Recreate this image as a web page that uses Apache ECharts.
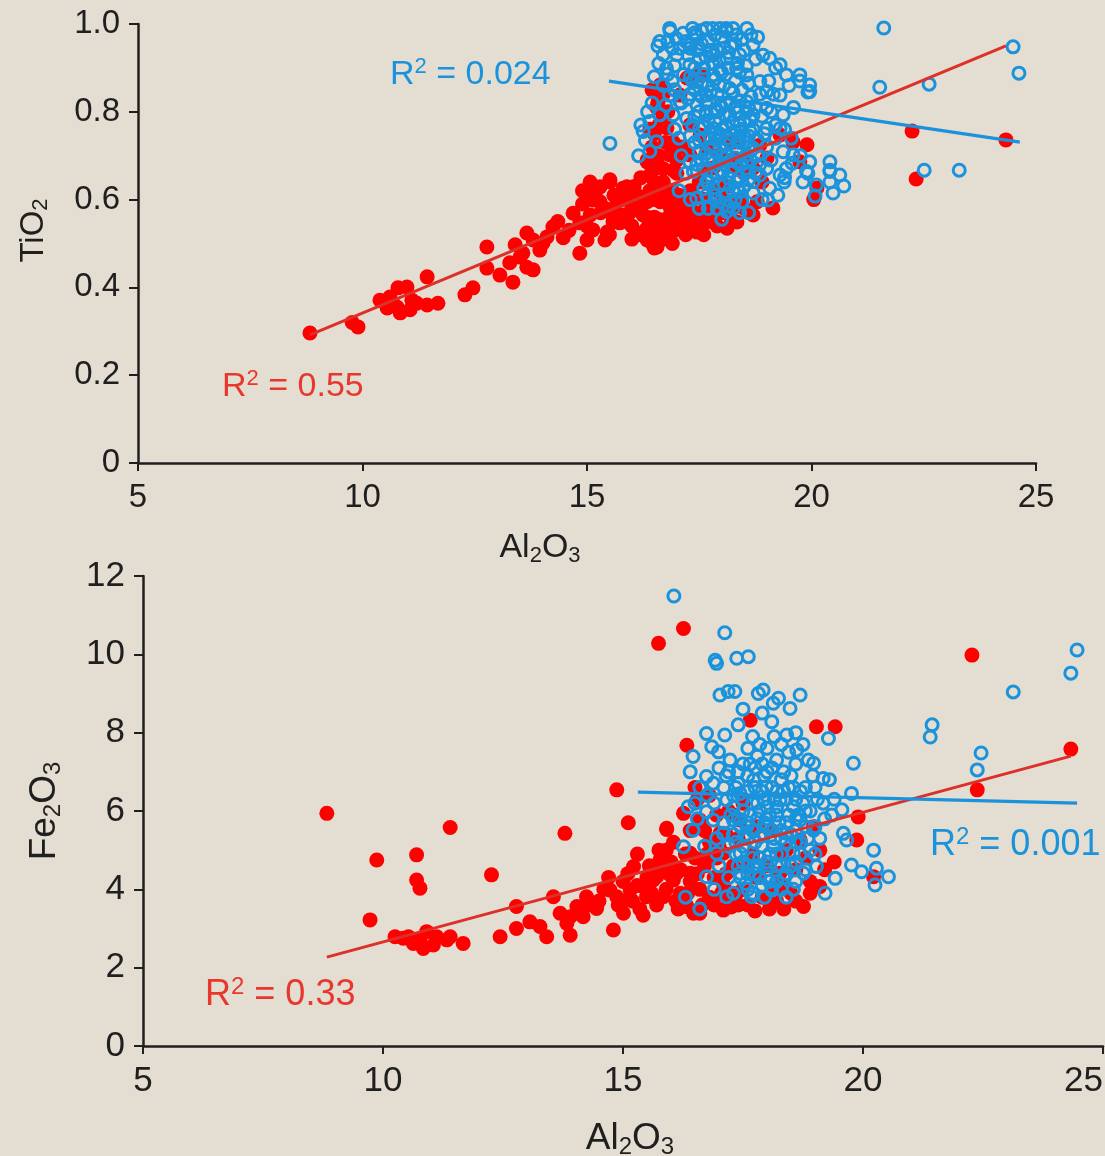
<!DOCTYPE html>
<html>
<head>
<meta charset="utf-8">
<title>TiO2 and Fe2O3 vs Al2O3</title>
<style>
  html, body { margin: 0; padding: 0; background: #e3ddd2; }
  #chart { width: 1105px; height: 1156px; }
</style>
<script src="https://cdn.jsdelivr.net/npm/echarts@6/dist/echarts.min.js"></script>
</head>
<body>
<div id="chart"></div>
<script>
// ---- axis ticks ----
const al2o3Ticks = [5, 10, 15, 20, 25];
const tio2Ticks = [0, 0.2, 0.4, 0.6, 0.8, 1.0];
const fe2o3Ticks = [0, 2, 4, 6, 8, 10, 12];

// ---- TiO2 vs Al2O3: group A (filled red) ----
const tio2Red = [
  [8.83,0.296],[9.77,0.32],[9.9,0.31],
  [10.39,0.371],[10.61,0.378],[10.79,0.399],[10.99,0.401],[10.55,0.353],[10.77,0.355],[10.84,0.342],[11.06,0.349],
  [11.21,0.364],[11.44,0.36],[11.68,0.364],[11.44,0.424],[10.68,0.364],[11.1,0.371],
  [12.28,0.383],[12.46,0.399],[12.77,0.492],[12.77,0.444],
  [13.06,0.428],[13.35,0.412],[13.28,0.456],[13.51,0.469],[13.66,0.524],[13.8,0.508],[13.95,0.485],[14.11,0.515],
  [14.24,0.538],[13.8,0.44],[13.66,0.446],[13.4,0.497],[13.57,0.478],[14.02,0.501],[14.47,0.513],
  [14.69,0.569],[14.84,0.547],[15.0,0.508],[14.84,0.478],[15.13,0.599],[15.29,0.629],[15.51,0.645],[15.13,0.531],
  [15.4,0.508],[15.58,0.56],[15.73,0.547],[15.89,0.629],[16.18,0.606],[16.34,0.69],[16.56,0.686],[16.34,0.56],
  [16.47,0.524],[16.34,0.508],[16.56,0.492],[16.69,0.622],[16.92,0.667],[17.07,0.547],[17.29,0.583],[16.85,0.583],[16.63,0.554],
  [16.63,0.861],[16.58,0.822],[16.69,0.793],[16.78,0.763],[16.92,0.731],[16.85,0.702],[16.34,0.686],[16.56,0.672],
  [16.4,0.656],[15.07,0.64],[15.51,0.64],[15.8,0.626],[16.11,0.61],[15.29,0.595],[15.67,0.595],
  [16.34,0.595],[16.63,0.595],[16.92,0.61],[17.07,0.595],[16.25,0.565],[16.56,0.549],[16.85,0.565],[17.14,0.565],
  [17.45,0.549],[16.34,0.535],[16.69,0.526],[17.07,0.535],[17.45,0.526],[17.81,0.549],[18.12,0.535],[18.34,0.549],
  [18.79,0.595],[18.7,0.565],[19.14,0.581],[15.58,0.549],[15.45,0.526],[15.8,0.565],[15.07,0.565],
  [17.23,0.877],[17.52,0.884],[17.07,0.838],[17.29,0.77],[17.52,0.747],[17.67,0.718],[17.96,0.702],[18.25,0.731],
  [18.56,0.702],[18.85,0.724],[19.01,0.695],[19.3,0.747],[18.7,0.672],[18.34,0.672],[17.81,0.672],[17.29,0.702],
  [16.5,0.75],[16.6,0.70],[16.7,0.64],[16.9,0.62],[17.0,0.57],[17.2,0.55],[17.4,0.57],[17.6,0.60],[17.8,0.58],
  [18.0,0.57],[18.2,0.56],[17.6,0.52],[17.2,0.52],[16.9,0.50],[16.5,0.56],[16.1,0.58],[15.9,0.60],[15.6,0.61],
  [16.0,0.54],[17.9,0.62],[18.4,0.60],[18.1,0.63],[17.5,0.64],[17.3,0.62],[16.8,0.54],[16.4,0.62],[15.3,0.57],
  [14.9,0.59],[17.0,0.66],[17.7,0.67],[18.5,0.66],[18.9,0.64],[18.3,0.69],[17.1,0.72],[16.8,0.80],[16.7,0.84],
  [15.2,0.62],[15.4,0.58],[15.6,0.58],[15.75,0.6],[15.95,0.57],[16.05,0.63],[16.2,0.65],[16.3,0.53],[16.45,0.6],
  [16.6,0.63],[16.75,0.6],[16.9,0.58],[17.05,0.61],[17.2,0.58],[17.35,0.6],[17.55,0.57],[17.7,0.55],[17.9,0.54],
  [18.05,0.6],[18.25,0.58],[18.5,0.58],[16.2,0.52],[16.45,0.5],[16.7,0.51],[16.95,0.53],[17.3,0.54],[17.6,0.55],
  [16.5,0.64],[16.7,0.67],[16.45,0.72],[16.6,0.77],[16.55,0.81],[16.75,0.73],[17.0,0.69],[16.4,0.76],[16.45,0.85],
  [15.0,0.54],[14.6,0.53],[14.35,0.55],[14.9,0.62],[15.5,0.52],[16.0,0.51],[16.5,0.49],
  [19.59,0.731],[19.9,0.725],[19.74,0.686],[20.12,0.626],[20.05,0.60],
  [22.24,0.756],[22.33,0.647],[24.33,0.736]
];

// ---- TiO2 vs Al2O3: group B (open blue) ----
const tio2Blue = [
  [16.84,0.99],[17.14,0.979],[16.62,0.96],[16.99,0.967],[17.44,0.975],[17.66,0.99],[17.96,0.99],[18.11,0.983],
  [18.33,0.975],[18.56,0.99],[18.7,0.952],[18.92,0.929],[19.07,0.922],[19.3,0.907],[19.44,0.884],[19.74,0.884],
  [19.96,0.861],[19.96,0.846],[16.77,0.899],[17.07,0.945],[17.29,0.907],[16.84,0.838],[17.07,0.823],[16.62,0.793],
  [16.4,0.778],[16.25,0.755],[16.55,0.732],[15.51,0.728],[16.92,0.793],[17.22,0.785],[17.29,0.686],[17.37,0.664],
  [17.59,0.671],[17.66,0.641],[17.44,0.603],[17.66,0.61],[17.81,0.626],[17.96,0.595],[18.11,0.573],[18.26,0.58],
  [18.4,0.618],[18.7,0.641],[18.85,0.656],[19.0,0.671],[19.07,0.626],[19.3,0.656],[19.44,0.671],[19.59,0.702],
  [19.96,0.686],[19.89,0.664],[20.11,0.633],[20.41,0.686],[20.41,0.664],[20.63,0.656],[19.37,0.709],[19.3,0.762],
  [19.37,0.793],[19.3,0.838],[19.0,0.846],[18.85,0.869],[18.56,0.884],[18.33,0.899],[18.11,0.922],[17.81,0.929],
  [17.51,0.945],[17.29,0.952],[17.44,0.869],[17.66,0.838],[17.96,0.815],[18.18,0.793],[18.4,0.77],[18.63,0.755],
  [18.18,0.732],[17.96,0.717],[17.81,0.762],[17.66,0.793],[17.51,0.762],[17.81,0.884],[18.18,0.853],[18.56,0.823],
  [18.7,0.793],[19.0,0.808],[19.0,0.762],[18.7,0.717],[18.56,0.702],[18.33,0.686],[18.11,0.702],[18.03,0.664],
  [18.33,0.641],[18.56,0.664],
  [17.2,0.96],[17.5,0.92],[17.7,0.96],[17.9,0.94],[18.0,0.97],[18.2,0.95],[18.4,0.93],[17.6,0.90],[17.8,0.91],
  [18.0,0.89],[18.3,0.87],[17.4,0.85],[17.7,0.86],[17.9,0.84],[18.1,0.82],[18.3,0.81],[18.5,0.78],[17.5,0.80],
  [17.7,0.78],[17.9,0.80],[18.0,0.76],[18.2,0.75],[18.4,0.73],[17.6,0.74],[17.8,0.72],[18.0,0.70],[18.2,0.69],
  [17.7,0.69],[17.5,0.71],[18.6,0.72],[18.8,0.70],[19.1,0.69],[18.9,0.79],[19.2,0.74],[17.9,0.66],[18.1,0.61],
  [18.3,0.60],[17.9,0.58],[18.4,0.65],[17.3,0.88],[17.1,0.82],[16.9,0.87],[17.0,0.93],[16.8,0.96],[16.6,0.91],
  [19.1,0.80],[19.4,0.76],[17.4,0.98],[18.8,0.97],[17.8,0.99],[18.1,0.99],
  [17.35,0.99],[17.55,0.985],[17.85,0.975],[18.25,0.99],[18.45,0.965],[18.65,0.975],[17.25,0.93],[17.45,0.94],
  [17.65,0.925],[17.95,0.915],[18.15,0.935],[18.35,0.91],[18.55,0.905],[18.75,0.92],[17.15,0.885],[17.35,0.87],
  [17.55,0.865],[17.85,0.875],[18.05,0.86],[18.25,0.845],[18.45,0.85],[18.65,0.835],[18.85,0.84],[19.05,0.87],
  [17.25,0.83],[17.45,0.815],[17.65,0.82],[17.85,0.805],[18.05,0.795],[18.35,0.8],[18.55,0.8],[18.75,0.81],
  [19.15,0.84],[17.35,0.77],[17.6,0.765],[17.85,0.75],[18.1,0.765],[18.3,0.755],[18.5,0.745],[18.7,0.76],
  [18.95,0.75],[19.2,0.77],[17.4,0.73],[17.65,0.705],[17.9,0.735],[18.1,0.725],[18.35,0.71],[18.55,0.73],
  [18.8,0.735],[19.0,0.72],[17.45,0.68],[17.75,0.655],[17.95,0.685],[18.2,0.665],[18.45,0.68],[18.65,0.69],
  [18.85,0.68],[17.6,0.625],[17.85,0.61],[18.05,0.635],[18.25,0.62],[18.5,0.63],[18.7,0.615],[17.7,0.58],
  [18.0,0.555],[18.2,0.595],[18.45,0.595],[16.95,0.905],[16.7,0.93],[16.9,0.945],[16.5,0.88],[16.7,0.86],
  [16.95,0.85],[16.45,0.82],[16.75,0.815],[16.95,0.76],[16.35,0.80],[17.05,0.74],[16.2,0.77],[16.4,0.71],
  [17.1,0.7],[17.2,0.66],[17.05,0.62],[17.3,0.6],[17.5,0.58],[19.2,0.9],[19.5,0.86],[19.6,0.81],[19.55,0.74],
  [19.75,0.7],[19.4,0.65],[19.25,0.61],[18.9,0.6],[18.6,0.57],[16.3,0.735],[16.15,0.7],
  [17.3,0.945],[17.55,0.955],[17.75,0.94],[18.05,0.945],[18.3,0.955],[18.5,0.94],[17.4,0.9],[17.6,0.885],
  [17.95,0.895],[18.15,0.9],[18.4,0.89],[18.6,0.865],[17.3,0.84],[17.55,0.835],[17.75,0.845],[17.95,0.86],
  [18.2,0.82],[18.4,0.825],[18.6,0.81],[17.4,0.79],[17.65,0.8],[17.85,0.78],[18.0,0.81],[18.25,0.775],
  [18.45,0.76],[18.65,0.78],[17.3,0.745],[17.5,0.735],[17.75,0.74],[17.95,0.75],[18.15,0.74],[18.4,0.745],
  [18.6,0.745],[17.55,0.69],[17.8,0.695],[18.05,0.68],[18.3,0.695],[18.55,0.685],[18.75,0.66],[17.7,0.64],
  [17.95,0.635],[18.15,0.65],[18.35,0.625],[18.6,0.645],[17.85,0.6],[18.15,0.585],[18.4,0.57],
  [20.41,0.667],[19.92,0.66],[20.41,0.64],[20.72,0.631],[20.48,0.615],[19.81,0.64],[20.08,0.608],[19.03,0.599],
  [19.39,0.64],[19.57,0.683],[19.74,0.87],[19.92,0.845],[16.8,0.886],[16.58,0.95],[16.85,0.984],
  [21.61,0.991],[21.52,0.856],[22.62,0.863],[24.49,0.948],[24.62,0.888],[22.51,0.667],[23.29,0.667]
];

// ---- Fe2O3 vs Al2O3: group A (filled red) ----
const fe2o3Red = [
  [8.83,5.94],[9.87,4.75],[10.7,4.88],[10.7,4.24],[10.77,4.03],[9.73,3.22],[11.4,5.58],[12.26,4.37],[13.79,5.43],
  [14.87,6.54],[15.11,5.7],[15.91,5.53],[16.33,7.68],
  [10.42,2.75],[10.63,2.62],[10.84,2.49],[10.91,2.92],[11.12,2.79],[11.33,2.71],[11.67,2.62],[10.77,2.71],
  [11.05,2.58],[10.53,2.79],[11.4,2.79],[10.25,2.79],[12.44,2.79],[12.78,3.56],
  [12.78,3.0],[13.06,3.17],[13.27,3.05],[13.41,2.79],[13.55,3.81],[13.69,3.39],[13.83,3.13],[13.9,2.83],
  [14.04,3.56],[14.17,3.3],[14.24,3.81],[14.45,3.51],[14.73,3.98],[14.8,2.96],[15.01,3.39],[15.22,4.58],
  [15.42,3.34],[15.15,3.98],[15.49,3.81],[15.7,4.32],[16.05,4.24],[16.4,4.41],[16.33,3.56],[16.47,3.39],
  [16.19,3.9],[15.84,3.81],[14.87,3.81],
  [16.26,10.66],[15.74,10.28],[17.65,8.32],[19.03,8.15],[19.42,8.15],[15.91,5.56],[19.9,5.85],[19.87,5.26],
  [19.1,5.0],[19.1,4.07],[18.76,3.56],[17.09,3.47],[16.33,3.56],[16.6,3.39],[16.4,4.92],[16.6,5.77],[16.26,5.94],
  [16.54,6.28],[17.37,3.9],[18.13,3.9],[18.27,4.41],[17.58,4.58],[17.09,4.92],[17.02,5.43],[17.44,5.77],
  [18.34,4.92],[18.69,5.26],[18.97,5.6],[15.42,4.07],[15.77,4.75],[16.12,4.41],[15.63,4.24],[20.22,4.32],
  [15.5,4.3],[15.6,3.9],[15.8,4.6],[15.9,4.0],[16.0,4.7],[16.1,3.7],[16.2,4.5],[16.4,4.2],[16.5,4.8],[16.6,4.0],
  [16.7,4.6],[16.8,3.8],[16.9,4.3],[17.0,5.1],[17.1,4.1],[17.2,3.7],[17.3,4.6],[17.4,5.3],[17.5,4.0],[17.6,3.6],
  [17.7,4.9],[17.8,4.3],[17.9,3.8],[18.0,4.6],[18.1,5.5],[18.2,3.7],[18.3,4.1],[18.4,5.0],[18.5,3.9],[18.6,4.5],
  [17.8,5.6],[17.3,5.9],[16.8,5.2],[16.4,5.5],[15.9,5.0],[15.3,4.9],[15.0,4.2],[14.6,4.0],[14.3,3.6],[13.9,3.3],
  [14.9,3.6],[15.2,3.7],[16.8,6.4],[16.5,6.6],[18.8,4.8],[17.5,6.2],
  [14.5,3.7],[14.7,4.3],[15.0,3.7],[15.1,4.4],[15.3,4.1],[15.35,3.5],[15.55,4.6],[15.7,3.6],[15.75,5.0],[15.95,4.4],
  [16.05,5.2],[16.15,3.5],[16.3,4.9],[16.35,3.9],[16.55,4.4],[16.65,3.6],[16.75,4.9],[16.9,3.6],[16.95,4.8],
  [17.05,3.9],[17.15,4.4],[17.25,3.55],[17.4,3.6],[17.75,3.45],[18.05,3.5],[18.35,3.5],[18.6,3.7],[18.9,4.2],
  [18.9,3.9],[19.2,4.5],[19.4,4.7],[16.7,5.5],[17.15,5.4],[17.2,6.0],[16.95,5.9],
  [22.27,9.98],[22.38,6.54],[24.33,7.58]
];

// ---- Fe2O3 vs Al2O3: group B (open blue) ----
const fe2o3Blue = [
  [17.12,10.55],[16.95,9.77],[16.92,9.85],[17.37,9.9],[17.61,9.94],[17.02,8.96],[17.19,9.05],[17.33,9.05],
  [17.82,9.0],[17.92,9.09],[18.13,8.75],[18.24,8.88],[18.48,8.62],[18.69,8.96],[18.1,8.28],
  [16.74,7.98],[17.12,7.94],[16.85,7.64],[16.99,7.51],[16.46,7.39],[17.23,7.3],[18.41,7.94],[18.62,7.56],
  [18.86,7.3],[18.97,7.22],[19.8,7.22],[19.28,7.85],
  [16.74,6.88],[16.88,6.71],[19.17,6.83],[19.76,6.45],[19.17,6.2],[19.56,6.03],[16.36,6.11],[16.74,5.98],
  [16.46,5.51],[16.26,5.09],[16.95,4.92],[16.74,4.32],[17.16,3.81],[17.68,3.81],[18.1,3.98],[18.76,4.41],
  [19.03,4.58],[19.21,3.9],[19.42,4.28],[19.59,5.43],[19.66,5.26],[19.76,4.62],[19.97,4.45],[20.22,5.0],
  [20.28,4.54],[20.53,4.32],[20.25,4.11],[18.97,5.51],[18.69,5.77],[18.55,6.11],[18.27,6.28],[17.99,6.62],
  [17.72,6.79],[17.44,6.45],[17.16,6.28],[17.3,5.77],[17.58,5.6],[17.85,5.34],[18.13,5.09],[18.41,5.43],
  [18.55,4.92],[17.44,4.92],[17.72,4.58],[17.99,4.32],[17.44,4.41],[17.09,5.43],[16.88,5.77],
  [17.5,7.2],[17.8,7.4],[18.0,7.0],[18.2,7.3],[17.6,6.9],[17.9,6.5],[18.1,6.6],[18.3,6.8],[17.4,6.7],[17.7,6.2],
  [18.0,6.1],[18.2,5.9],[18.4,6.3],[17.5,6.0],[17.8,5.8],[18.0,5.6],[18.3,5.5],[17.6,5.3],[17.9,5.1],[18.2,4.9],
  [17.7,4.8],[18.0,4.5],[18.3,4.6],[17.5,4.7],[17.9,4.1],[18.2,4.2],[17.6,4.0],[18.6,5.2],[18.8,5.6],[18.7,6.5],
  [18.5,6.9],[17.3,6.1],[17.1,5.7],[16.9,6.2],[17.2,5.1],[17.0,4.6],[16.6,6.6],[16.4,7.0],[18.9,6.0],[19.0,6.6],
  [19.3,6.8],[19.4,6.3],[17.7,7.9],[18.0,7.6],[18.3,7.7],[17.4,8.2],[18.6,8.0],[17.9,8.5],[17.5,8.6],
  [17.2,7.0],[17.35,6.6],[17.6,6.5],[17.75,7.1],[17.95,6.9],[18.15,6.3],[18.35,6.5],[18.55,6.6],[18.75,6.2],
  [17.1,6.6],[17.25,5.9],[17.45,5.6],[17.65,5.9],[17.85,6.0],[18.05,5.9],[18.25,5.7],[18.45,5.9],[18.65,5.9],
  [18.85,5.3],[17.3,5.4],[17.5,5.1],[17.7,5.5],[17.95,5.4],[18.15,5.3],[18.4,5.2],[18.6,5.5],[17.35,4.9],
  [17.6,4.6],[17.85,4.8],[18.05,4.9],[18.3,4.9],[18.5,4.6],[18.7,4.9],[17.45,4.3],[17.75,4.4],[18.05,4.2],
  [18.35,4.3],[18.6,4.2],[17.3,3.9],[17.95,3.8],[18.4,3.8],[18.9,5.0],[19.1,5.3],[19.2,5.8],[19.05,6.3],
  [19.35,5.9],[16.95,5.3],[16.7,5.1],[16.55,5.8],[16.75,6.4],[16.5,6.2],[17.0,7.1],[17.85,7.7],[18.15,7.9],
  [18.45,7.5],[18.75,7.7],[17.6,7.6],[18.95,6.9],
  [17.15,6.9],[17.4,7.0],[17.65,7.2],[17.9,7.2],[18.1,7.1],[18.35,7.0],[18.6,7.2],[17.3,6.4],[17.5,6.3],
  [17.75,6.6],[17.95,6.3],[18.2,6.5],[18.45,6.6],[18.6,6.3],[18.8,6.6],[17.4,5.8],[17.6,5.7],[17.8,6.2],
  [18.0,5.8],[18.2,6.1],[18.4,5.7],[18.6,5.8],[18.8,6.0],[17.35,5.2],[17.55,5.4],[17.75,5.2],[17.95,5.7],
  [18.1,5.5],[18.3,5.3],[18.5,5.4],[18.7,5.2],[17.4,4.6],[17.6,4.4],[17.8,4.6],[18.0,4.7],[18.2,4.6],
  [18.4,4.4],[18.6,4.7],[17.55,4.15],[17.85,4.3],[18.1,4.05],[18.3,4.0],[18.55,4.0],[17.7,3.9],[18.8,4.5],
  [19.0,4.9],[19.0,5.6],[17.2,4.3],[16.9,4.0],
  [16.3,3.8],[16.6,3.5],
  [16.06,11.49],[24.46,10.11],[24.33,9.52],[23.13,9.04],[21.44,8.2],[21.4,7.89],[22.46,7.48],[22.38,7.05]
];

// ---- least-squares trend lines (end points) ----
const tio2RedFit = [[8.83, 0.292], [24.33, 0.950]];
const tio2BlueFit = [[15.49, 0.870], [24.64, 0.731]];
const fe2o3RedFit = [[8.83, 2.27], [24.33, 7.40]];
const fe2o3BlueFit = [[15.31, 6.48], [24.46, 6.20]];

// ---- R-squared values ----
const r2Tio2Red = '0.55';
const r2Tio2Blue = '0.024';
const r2Fe2o3Red = '0.33';
const r2Fe2o3Blue = '0.001';

const FONT = '"Liberation Sans", Arial, Helvetica, sans-serif';
const INK = '#1f1f1f';
const RED = '#ff0000';
const RED_LINE = '#dc3028';
const RED_TEXT = '#e8382e';
const BLUE = '#1a93dc';

function chemRich(size, subSize) {
  return {
    a: { fontSize: size, lineHeight: size + 4, color: INK, fontFamily: FONT },
    s: { fontSize: subSize, lineHeight: subSize - 4, verticalAlign: 'bottom', color: INK, fontFamily: FONT }
  };
}

function valueXAxis(grid, fontSize, nameSize, gap, pad, alignMax) {
  return {
    type: 'value', gridIndex: grid, min: al2o3Ticks[0], max: al2o3Ticks[al2o3Ticks.length - 1],
    interval: al2o3Ticks[1] - al2o3Ticks[0],
    name: '{a|Al}{s|2}{a|O}{s|3}', nameLocation: 'middle', nameGap: gap,
    nameTextStyle: { rich: chemRich(nameSize, Math.round(nameSize * 0.66)), padding: pad },
    axisLine: { show: true, onZero: false, lineStyle: { color: INK, width: 2.5 } },
    axisTick: { show: true, inside: false, length: 8, lineStyle: { color: INK, width: 2 } },
    axisLabel: { fontSize: fontSize, color: INK, fontFamily: FONT, margin: 18, alignMaxLabel: alignMax },
    splitLine: { show: false }
  };
}

function valueYAxis(grid, ticks, fontSize, nameRichText, nameSize, gap, pad, fmt) {
  return {
    type: 'value', gridIndex: grid, min: ticks[0], max: ticks[ticks.length - 1],
    interval: ticks[1] - ticks[0],
    name: nameRichText, nameLocation: 'middle', nameGap: gap, nameRotate: 90,
    nameTextStyle: { rich: chemRich(nameSize, Math.round(nameSize * 0.66)), padding: pad },
    axisLine: { show: true, onZero: false, lineStyle: { color: INK, width: 2.5 } },
    axisTick: { show: true, inside: false, length: 9, lineStyle: { color: INK, width: 2 } },
    axisLabel: { fontSize: fontSize, color: INK, fontFamily: FONT, margin: 18, formatter: fmt },
    splitLine: { show: false }
  };
}

function filled(data, xi) {
  return {
    type: 'scatter', xAxisIndex: xi, yAxisIndex: xi, data: data, symbol: 'circle', symbolSize: 15,
    itemStyle: { color: RED, opacity: 1 }, z: 2, silent: true
  };
}
function hollow(data, xi) {
  return {
    type: 'scatter', xAxisIndex: xi, yAxisIndex: xi, data: data, symbol: 'circle', symbolSize: 12,
    itemStyle: { color: 'rgba(0,0,0,0)', borderColor: BLUE, borderWidth: 3, opacity: 1 }, z: 3, silent: true
  };
}
function fit(data, xi, color, w) {
  return {
    type: 'line', xAxisIndex: xi, yAxisIndex: xi, data: data, symbol: 'none',
    lineStyle: { color: color, width: w }, z: 4, silent: true
  };
}

function r2Label(x, y, value, color, size) {
  return {
    type: 'text', x: x, y: y, z: 10,
    style: {
      text: '{a|R}{s|2}{a| = ' + value + '}',
      verticalAlign: 'middle', align: 'left',
      rich: {
        a: { fontSize: size, lineHeight: size + 4, fill: color, fontFamily: FONT },
        s: { fontSize: Math.round(size * 0.66), lineHeight: Math.round(size * 0.66) + 4, verticalAlign: 'top', fill: color, fontFamily: FONT }
      }
    }
  };
}

const chart = echarts.init(document.getElementById('chart'), null, { renderer: 'canvas' });
chart.setOption({
  animation: false,
  backgroundColor: '#e3ddd2',
  textStyle: { fontFamily: FONT },
  grid: [
    { left: 138, top: 24, width: 898, height: 439, outerBoundsMode: 'none', containLabel: false },
    { left: 143, top: 576, width: 960, height: 470, outerBoundsMode: 'none', containLabel: false }
  ],
  xAxis: [
    valueXAxis(0, 33, 34, 66, [0, 94, 0, 0], null),
    valueXAxis(1, 35, 37, 72, [0, 0, 0, 14], 'right')
  ],
  yAxis: [
    valueYAxis(0, tio2Ticks, 33, '{a|TiO}{s|2}', 33, 86, [0, 0, 0, 26], v => (v === 0 ? '0' : v.toFixed(1))),
    valueYAxis(1, fe2o3Ticks, 35, '{a|Fe}{s|2}{a|O}{s|3}', 37, 78, [0, 0, 0, 0], v => String(v))
  ],
  series: [
    filled(tio2Red, 0),
    hollow(tio2Blue, 0),
    fit(tio2RedFit, 0, RED_LINE, 3),
    fit(tio2BlueFit, 0, BLUE, 3.2),
    filled(fe2o3Red, 1),
    hollow(fe2o3Blue, 1),
    fit(fe2o3RedFit, 1, RED_LINE, 3),
    fit(fe2o3BlueFit, 1, BLUE, 3.2)
  ],
  graphic: [
    r2Label(390, 75, r2Tio2Blue, BLUE, 34),
    r2Label(222, 387, r2Tio2Red, RED_TEXT, 34),
    r2Label(205, 995, r2Fe2o3Red, RED_TEXT, 36),
    r2Label(930, 845, r2Fe2o3Blue, BLUE, 36)
  ]
});
</script>
</body>
</html>
